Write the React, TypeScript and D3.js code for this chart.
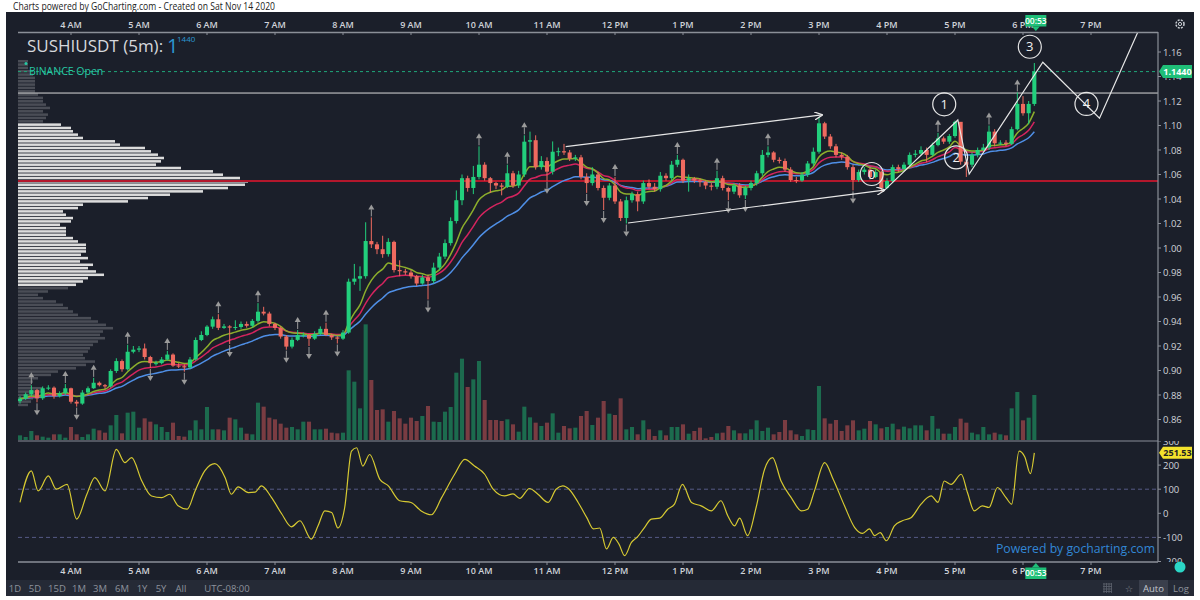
import React from 'react';
import * as d3 from 'd3';

// 5m candles, SUSHIUSDT, from 3:15 AM to 6:10 PM (Nov 14 2020)
const firstOpen = 0.875;
const closes = [
  0.877, 0.8806, 0.884, 0.8773, 0.8855, 0.886, 0.879, 0.8814, 0.8855, 0.8745,
  0.873, 0.882, 0.8855, 0.89, 0.888, 0.887, 0.8996, 0.9077, 0.901, 0.9153,
  0.917, 0.918, 0.911, 0.906, 0.906, 0.909, 0.913, 0.904, 0.9035, 0.9025,
  0.909, 0.9249, 0.929, 0.9358, 0.9418, 0.9348, 0.936, 0.935, 0.9355, 0.938,
  0.9365, 0.9405, 0.948, 0.9465, 0.938, 0.9348, 0.9277, 0.9195, 0.925, 0.929,
  0.929, 0.926, 0.93, 0.934, 0.929, 0.927, 0.926, 0.931, 0.9725, 0.975,
  0.977, 1.0057, 1.003, 0.999, 0.995, 1.005, 0.982, 0.981, 0.98, 0.977,
  0.971, 0.976, 0.973, 0.984, 0.993, 1.004, 1.022, 1.039, 1.057, 1.049,
  1.058, 1.068, 1.057, 1.053, 1.051, 1.05, 1.061, 1.051, 1.06, 1.0868,
  1.088, 1.066, 1.071, 1.0623, 1.0786, 1.079, 1.078, 1.073, 1.074, 1.058,
  1.053, 1.06, 1.049, 1.041, 1.051, 1.038, 1.0245, 1.039, 1.044, 1.038,
  1.053, 1.05, 1.048, 1.059, 1.057, 1.068, 1.072, 1.055, 1.057, 1.055,
  1.054, 1.051, 1.05, 1.057, 1.049, 1.046, 1.051, 1.043, 1.049, 1.053,
  1.061, 1.076, 1.078, 1.072, 1.071, 1.064, 1.0555, 1.055, 1.06, 1.069,
  1.0786, 1.1018, 1.091, 1.083, 1.076, 1.0745, 1.066, 1.0555, 1.062, 1.064,
  1.058, 1.062, 1.049, 1.0547, 1.066, 1.0645, 1.068, 1.076, 1.077, 1.08,
  1.076, 1.084, 1.0895, 1.0868, 1.0914, 1.103, 1.0705, 1.068, 1.076, 1.08,
  1.082, 1.095, 1.0855, 1.086, 1.085, 1.097, 1.1176, 1.11, 1.1176, 1.144,
];
const highs = [
  0.879, 0.882, 0.888, 0.885, 0.887, 0.888, 0.887, 0.883, 0.889, 0.886,
  0.876, 0.884, 0.887, 0.894, 0.891, 0.889, 0.901, 0.91, 0.909, 0.921,
  0.92, 0.92, 0.922, 0.912, 0.908, 0.911, 0.916, 0.914, 0.906, 0.905,
  0.911, 0.927, 0.932, 0.937, 0.944, 0.946, 0.938, 0.937, 0.941, 0.94,
  0.94, 0.942, 0.955, 0.952, 0.948, 0.939, 0.936, 0.929, 0.927, 0.933,
  0.931, 0.93, 0.932, 0.936, 0.939, 0.93, 0.928, 0.933, 0.975, 0.987,
  0.985, 1.021, 1.025, 1.005, 1.01, 1.008, 1.006, 0.99, 0.983, 0.982,
  0.978, 0.978, 0.978, 0.988, 0.996, 1.007, 1.025, 1.047, 1.06, 1.059,
  1.067, 1.083, 1.07, 1.058, 1.054, 1.053, 1.068, 1.063, 1.063, 1.092,
  1.095, 1.092, 1.075, 1.074, 1.087, 1.082, 1.085, 1.08, 1.076, 1.076,
  1.061, 1.066, 1.062, 1.051, 1.053, 1.058, 1.04, 1.042, 1.046, 1.046,
  1.055, 1.056, 1.053, 1.062, 1.061, 1.071, 1.076, 1.073, 1.06, 1.058,
  1.057, 1.055, 1.053, 1.063, 1.059, 1.05, 1.053, 1.053, 1.051, 1.055,
  1.063, 1.08, 1.083, 1.079, 1.074, 1.073, 1.066, 1.058, 1.062, 1.071,
  1.082, 1.107, 1.103, 1.093, 1.085, 1.078, 1.076, 1.068, 1.064, 1.066,
  1.066, 1.064, 1.063, 1.057, 1.068, 1.068, 1.07, 1.078, 1.08, 1.083,
  1.082, 1.086, 1.094, 1.091, 1.093, 1.104, 1.1, 1.072, 1.078, 1.082,
  1.085, 1.1, 1.097, 1.088, 1.088, 1.099, 1.127, 1.124, 1.12, 1.151,
];
const lows = [
  0.873, 0.876, 0.879, 0.874, 0.876, 0.884, 0.877, 0.878, 0.88, 0.873,
  0.8705, 0.872, 0.881, 0.885, 0.887, 0.885, 0.886, 0.898, 0.899, 0.9,
  0.914, 0.915, 0.909, 0.902, 0.904, 0.905, 0.908, 0.903, 0.902, 0.899,
  0.901, 0.908, 0.924, 0.928, 0.934, 0.933, 0.934, 0.9216, 0.933, 0.934,
  0.935, 0.935, 0.939, 0.945, 0.936, 0.933, 0.926, 0.917, 0.918, 0.924,
  0.927, 0.92, 0.925, 0.929, 0.928, 0.925, 0.922, 0.925, 0.93, 0.97,
  0.965, 0.975, 1.0, 0.995, 0.992, 0.993, 0.98, 0.977, 0.978, 0.975,
  0.969, 0.97, 0.958, 0.971, 0.982, 0.991, 1.002, 1.02, 1.035, 1.046,
  1.044, 1.056, 1.055, 1.045, 1.048, 1.043, 1.049, 1.049, 1.049, 1.058,
  1.07, 1.064, 1.064, 1.055, 1.06, 1.075, 1.076, 1.071, 1.071, 1.056,
  1.045, 1.051, 1.047, 1.031, 1.039, 1.036, 1.022, 1.02, 1.037, 1.03,
  1.036, 1.048, 1.046, 1.046, 1.055, 1.055, 1.066, 1.053, 1.046, 1.053,
  1.05, 1.048, 1.047, 1.048, 1.047, 1.039, 1.044, 1.041, 1.04, 1.047,
  1.051, 1.059, 1.074, 1.07, 1.069, 1.062, 1.054, 1.053, 1.054, 1.058,
  1.067, 1.077, 1.089, 1.081, 1.074, 1.072, 1.064, 1.047, 1.054, 1.06,
  1.056, 1.057, 1.046, 1.048, 1.053, 1.062, 1.063, 1.066, 1.074, 1.076,
  1.07, 1.075, 1.083, 1.085, 1.085, 1.09, 1.068, 1.058, 1.066, 1.074,
  1.079, 1.08, 1.083, 1.084, 1.083, 1.084, 1.096, 1.108, 1.101, 1.116,
];
const volumes = [
  14, 9, 27, 14, 10, 7, 17, 17, 7, 39,
  17, 9, 17, 34, 29, 22, 44, 75, 20, 82,
  85, 37, 65, 55, 47, 39, 24, 52, 12, 10,
  29, 59, 32, 99, 32, 32, 29, 67, 62, 37,
  19, 17, 112, 100, 67, 62, 49, 37, 39, 32,
  55, 55, 32, 32, 34, 22, 20, 22, 209, 175,
  95, 347, 180, 90, 92, 55, 87, 65, 49, 67,
  57, 72, 102, 55, 54, 85, 99, 202, 244, 159,
  182, 237, 120, 60, 60, 57, 62, 47, 25, 100,
  68, 52, 42, 52, 80, 22, 42, 35, 37, 72,
  87, 45, 67, 117, 79, 75, 125, 32, 39, 17,
  59, 32, 12, 29, 14, 39, 39, 47, 19, 27,
  37, 5, 9, 20, 22, 42, 29, 20, 20, 32,
  59, 27, 37, 17, 24, 60, 29, 17, 12, 32,
  30, 162, 65, 49, 60, 27, 44, 59, 29, 34,
  57, 47, 35, 39, 49, 32, 40, 35, 44, 44,
  29, 72, 34, 19, 19, 39, 64, 52, 22, 17,
  39, 17, 22, 17, 14, 95, 144, 59, 67, 135,
];

// fractal markers (candle index)
const fractalUp = [2, 8, 13, 19, 26, 35, 42, 49, 54, 62, 81, 86, 89, 105, 116, 123, 132, 162, 171, 176];
const fractalDown = [3, 10, 23, 29, 37, 47, 51, 56, 72, 93, 100, 103, 107, 125, 128, 147];

// CCI points [candle index, value]
const cciPoints: [number, number][] = [
  [0, 45], [2, 176], [3.2, 93], [5, 155], [6.4, 100], [8.3, 120], [10, -24], [11.8, 79], [13.2, 148], [15, 93],
  [17, 265], [18.5, 210], [19.7, 231], [21.5, 134], [23.2, 72], [25, 65], [26.4, 79], [27.9, 31], [29.5, 17], [30.9, 93],
  [32.6, 176], [34.4, 206], [36.2, 148], [37.3, 79], [38.5, 110], [40.3, 86], [41.5, 88], [42.6, 114], [44.4, 65], [46.2, -3],
  [47.9, -56], [49.4, -31], [51.4, -107], [52.6, -52], [53.8, 10], [55, 3], [56.1, -61], [57.3, 24], [58.5, 258], [59.4, 272],
  [60.5, 196], [61.7, 244], [63.5, 141], [65, 114], [67, 52], [69, 45], [70.8, 10], [72.6, -6], [74.4, 65], [76.7, 162],
  [78.5, 224], [80.2, 196], [82, 162], [83.5, 100], [85.5, 72], [87, 81], [88.2, 62], [89.9, 103], [91.4, 79], [93.2, 45],
  [94.6, 100], [95.8, 114], [96.9, 100], [98.5, 45], [100, -17], [101.2, -65], [102.3, -61], [103.5, -148], [104.7, -100], [105.7, -128],
  [106.7, -176], [107.9, -121], [109, -97], [110.2, -59], [111.4, -24], [112.9, -20], [114.3, 17], [115.5, 38], [116.9, 120], [118.5, 45],
  [120.2, 31], [122, 10], [123.7, 52], [124.9, -10], [126.1, -52], [127, -20], [128.4, -93], [129.9, 24], [131.4, 183], [132.8, 231],
  [134.3, 134], [136.1, 65], [137.9, 10], [139, 17], [140.2, 93], [142, 210], [143.5, 141], [145.5, 31], [147.3, -59], [148.7, -83],
  [149.9, -65], [150.8, -93], [151.8, -80], [152.9, -114], [154.3, -52], [155.7, -31], [157.3, -17], [159, 38], [160.8, 72], [162, 45],
  [163.1, 134], [164.3, 120], [166.1, 162], [167.2, 86], [168.4, 10], [169.8, 31], [171, 24], [172.5, 107], [174, 65], [175, 38],
  [176.3, 258], [177.3, 235], [178.3, 165], [179, 251],
];

// volume profile, top (1.1535) to bottom (0.8702)
const profileTop = 1.1535;
const profileBottom = 0.8702;
const profile = [
  10, 10, 10, 12, 15, 17, 17, 17, 17, 17, 20, 25, 25, 28, 32, 25, 30, 28, 25,
  43, 53, 55, 60, 65, 97, 102, 127, 133, 140, 146, 143, 138, 163, 195, 205, 222, 230, 227, 210, 185,
  152, 130, 110, 65, 60, 45, 48, 55, 53, 42, 48, 48, 48, 55, 60, 68, 68, 68, 63, 70,
  62, 75, 70, 78, 86, 70, 65, 58,
  50, 30, 20, 25, 38, 45, 50, 55, 60, 73, 80, 88, 95, 85, 82, 87, 80, 75, 72, 70,
  65, 67, 77, 68, 58, 40, 33, 20, 15, 13, 25, 27, 20, 15, 13, 10,
];
const valueAreaHigh = 1.103;
const valueAreaLow = 0.9684;
const pocPrice = 1.0547;
const levelPrice = 1.1265;
const lastPrice = 1.144;
const lastCci = 251.53;

const priceTicks = [0.86, 0.88, 0.9, 0.92, 0.94, 0.96, 0.98, 1.0, 1.02, 1.04, 1.06, 1.08, 1.1, 1.12, 1.14, 1.16];
const cciTicks = [300, 200, 100, 0, -100, -200];

// drawings in [candle index, price]
const upperChannel: [number, number][] = [[96.3, 1.0827], [141.5, 1.1086]];
const lowerChannel: [number, number][] = [[107.3, 1.0204], [152.5, 1.0473]];
const wavePath: [number, number][] = [[152.3, 1.046], [165.5, 1.1045], [167.5, 1.0604], [180.5, 1.1516], [190.5, 1.1059], [197.3, 1.1766]];
const waveLabels: [string, number, number][] = [['0', 150.3, 1.0604], ['1', 163.1, 1.1173], ['2', 165.2, 1.074], ['3', 178.2, 1.1643], ['4', 188.2, 1.1176]];

const rangeButtons = ['1D', '5D', '15D', '1M', '3M', '6M', '1Y', '5Y', 'All'];

const C = {
  bg: '#1b1f2a',
  up: '#22cf7c',
  down: '#ef6a5f',
  volUp: '#1c6b4e',
  volDown: '#7a3c42',
  axis: '#8b8f98',
  text: '#d0d3d9',
};

const ema = (vals: number[], n: number) => {
  const k = 2 / (n + 1);
  let e = vals[0];
  return vals.map((v, i) => (i === 0 ? e : (e = v * k + e * (1 - k))));
};

const App: React.FC = () => {
  const left = 18, right = 1158, top = 33, sep = 441, bottom = 562;
  const t0 = new Date(2020, 10, 14, 3, 15);
  const step = 5 * 60 * 1000;
  const x = d3.scaleTime()
    .domain([t0, new Date(2020, 10, 14, 19, 0)])
    .range([20, 20 + 15.75 * 68]);
  const xi = (i: number) => x(new Date(+t0 + i * step));
  const y = d3.scaleLinear().domain([0.86, 1.16]).range([419.5, 52]);
  const yVol = d3.scaleLinear().domain([0, 360]).range([440, 320]);
  const yCci = d3.scaleLinear().domain([-200, 300]).range([561.5, 441]);
  const profH = (y(profileBottom) - y(profileTop)) / profile.length;
  const xProf = d3.scaleLinear().domain([0, 230]).range([0, 230]);

  const opens = closes.map((c, i) => (i === 0 ? firstOpen : closes[i - 1]));
  const bw = (xi(1) - xi(0)) * 0.72;
  const hours = x.ticks(d3.timeHour.every(1)!);
  const fmt = d3.timeFormat('%-I %p');

  const pLine = d3.line<[number, number]>().x(d => xi(d[0])).y(d => y(d[1]));
  const emaLine = d3.line<number>().x((_, i) => xi(i)).y(d => y(d)).curve(d3.curveMonotoneX);
  const cciLine = d3.line<[number, number]>().x(d => xi(d[0])).y(d => yCci(d[1])).curve(d3.curveMonotoneX);

  const emas: [number, string][] = [[21, '#4f8fe6'], [13, '#d4245e'], [8, '#8cae2c']];
  const font = '"Open Sans", "DejaVu Sans", sans-serif';

  return (
    <svg width={1200} height={600} style={{ position: 'absolute', left: 0, top: 0 }} fontFamily={font}>
      <defs>
        <clipPath id="pricePane"><rect x={left} y={top} width={right - left} height={sep - top} /></clipPath>
        <clipPath id="cciPane"><rect x={left} y={sep} width={right - left} height={bottom - sep} /></clipPath>
        <clipPath id="cciAxis"><rect x={right} y={sep} width={40} height={bottom - sep} /></clipPath>
        <marker id="arrow" viewBox="0 0 10 10" refX="9" refY="5" markerWidth="7" markerHeight="7" orient="auto">
          <path d="M0,0 L10,5 L0,10" fill="none" stroke="#e6e6e6" strokeWidth={1.5} />
        </marker>
      </defs>
      <rect width={1200} height={600} fill="#fff" />
      <text x={13} y={10} fontSize={10} fill="#222" textLength={262} lengthAdjust="spacingAndGlyphs">
        Charts powered by GoCharting.com - Created on Sat Nov 14 2020
      </text>
      <rect x={6} y={12} width={1188} height={584} fill={C.bg} />

      {/* price pane */}
      <g clipPath="url(#pricePane)">
        {profile.map((v, i) => {
          const yy = y(profileTop) + i * profH;
          const p = y.invert(yy + profH / 2);
          const light = p <= valueAreaHigh && p >= valueAreaLow;
          return <rect key={'pf' + i} x={left} y={yy} width={xProf(v)} height={profH - 0.8}
            fill={light ? '#dcdcdc' : '#4a4d56'} />;
        })}
        <line x1={left} x2={right} y1={y(pocPrice)} y2={y(pocPrice)} stroke="#b3172c" strokeWidth={2} />
        <line x1={left} x2={right} y1={y(levelPrice)} y2={y(levelPrice)} stroke="#d9d9d9" strokeWidth={1} />
        <line x1={left} x2={right} y1={y(lastPrice)} y2={y(lastPrice)} stroke="#1fa67a" strokeWidth={1} strokeDasharray="3,3" />

        {volumes.map((v, i) => (
          <rect key={'v' + i} x={xi(i) - bw / 2} y={yVol(v)} width={bw} height={yVol(0) - yVol(v)}
            fill={closes[i] >= opens[i] ? C.volUp : C.volDown} />
        ))}

        {emas.map(([n, col]) => (
          <path key={'e' + n} d={emaLine(ema(closes, n)) || ''} fill="none" stroke={col} strokeWidth={1.5} />
        ))}

        {closes.map((c, i) => {
          const o = opens[i];
          const col = c >= o ? C.up : C.down;
          const yt = y(Math.max(o, c)), yb = y(Math.min(o, c));
          return (
            <g key={'c' + i}>
              <line x1={xi(i)} x2={xi(i)} y1={y(highs[i])} y2={y(lows[i])} stroke={col} strokeWidth={1} />
              <rect x={xi(i) - bw / 2} y={yt} width={bw} height={Math.max(1, yb - yt)} fill={col} />
            </g>
          );
        })}

        {fractalUp.map(i => {
          const cx = xi(i), yh = y(highs[i]);
          return (
            <g key={'fu' + i} fill="#9b9b9b" stroke="#9b9b9b">
              <line x1={cx} x2={cx} y1={yh - 1} y2={yh - 8} strokeWidth={1} />
              <path d={`M${cx - 3},${yh - 8} L${cx + 3},${yh - 8} L${cx},${yh - 13} Z`} stroke="none" />
            </g>
          );
        })}
        {fractalDown.map(i => {
          const cx = xi(i), yl = y(lows[i]);
          return (
            <g key={'fd' + i} fill="#9b9b9b" stroke="#9b9b9b">
              <line x1={cx} x2={cx} y1={yl + 1} y2={yl + 8} strokeWidth={1} />
              <path d={`M${cx - 3},${yl + 8} L${cx + 3},${yl + 8} L${cx},${yl + 13} Z`} stroke="none" />
            </g>
          );
        })}

        <path d={pLine(upperChannel) || ''} stroke="#e6e6e6" strokeWidth={1.2} fill="none" markerEnd="url(#arrow)" />
        <path d={pLine(lowerChannel) || ''} stroke="#e6e6e6" strokeWidth={1.2} fill="none" markerEnd="url(#arrow)" />
        <path d={pLine(wavePath) || ''} stroke="#e6e6e6" strokeWidth={1.2} fill="none" />
        {waveLabels.map(([t, i, p]) => (
          <g key={'w' + t}>
            <circle cx={xi(i)} cy={y(p)} r={11.5} fill="none" stroke="#e6e6e6" strokeWidth={1.2} />
            <text x={xi(i)} y={y(p) + 4.5} textAnchor="middle" fontSize={13} fill="#f0f0f0">{t}</text>
          </g>
        ))}
      </g>

      {/* labels in price pane */}
      <text x={27} y={52} fontSize={17} fill="#d6d8dc">SUSHIUSDT (5m):</text>
      <text x={167} y={53} fontSize={20} fill="#2b97d2">1</text>
      <text x={177} y={42} fontSize={8} fill="#2b97d2">1440</text>
      <circle cx={26} cy={63.5} r={1.5} fill="#27c9a5" />
      <text x={29} y={75} fontSize={10.5} fill="#27c9a5">BINANCE Open</text>

      {/* CCI pane */}
      <line x1={left} x2={right} y1={sep} y2={sep} stroke="#666a74" strokeWidth={1.5} />
      <g clipPath="url(#cciPane)">
        {[100, -100].map(v => (
          <line key={'cl' + v} x1={left} x2={right} y1={yCci(v)} y2={yCci(v)} stroke="#565a86" strokeDasharray="4,3" />
        ))}
        <path d={cciLine(cciPoints) || ''} fill="none" stroke="#d6c932" strokeWidth={1.2} />
      </g>
      <text x={996} y={553} fontSize={12.5} fill="#3287d6" textLength={159} lengthAdjust="spacingAndGlyphs">Powered by gocharting.com</text>

      {/* axes */}
      <line x1={left} x2={right} y1={top - 0.5} y2={top - 0.5} stroke={C.axis} strokeWidth={1.5} />
      <line x1={left} x2={right} y1={bottom} y2={bottom} stroke={C.axis} strokeWidth={1.5} />
      <line x1={right} x2={right} y1={top - 1} y2={bottom} stroke={C.axis} strokeWidth={1.2} />
      {hours.map(h => (
        <g key={'h' + +h} fontSize={9} fontWeight={600} fill={C.text} textAnchor="middle">
          <line x1={x(h)} x2={x(h)} y1={top - 1} y2={top + 2} stroke={C.axis} />
          <text x={x(h)} y={28}>{fmt(h)}</text>
          <line x1={x(h)} x2={x(h)} y1={bottom} y2={bottom + 3} stroke={C.axis} />
          <text x={x(h)} y={574}>{fmt(h)}</text>
        </g>
      ))}
      {priceTicks.map(p => (
        <g key={'p' + p} fontSize={9.5} fill={C.text}>
          <line x1={right} x2={right + 3} y1={y(p)} y2={y(p)} stroke={C.axis} />
          <text x={right + 5} y={y(p) + 3.5}>{d3.format('.2f')(p)}</text>
        </g>
      ))}
      <g clipPath="url(#cciAxis)">
        {cciTicks.map(v => (
          <g key={'ct' + v} fontSize={9.5} fill={C.text}>
            <line x1={right} x2={right + 3} y1={yCci(v)} y2={yCci(v)} stroke={C.axis} />
            <text x={right + 5} y={yCci(v) + 3.5}>{v}</text>
          </g>
        ))}
      </g>

      {/* last price & cci tags */}
      <path d={`M${right + 1},${y(lastPrice)} L${right + 5},${y(lastPrice) - 6.5} L${right + 34},${y(lastPrice) - 6.5} L${right + 34},${y(lastPrice) + 6.5} L${right + 5},${y(lastPrice) + 6.5} Z`} fill="#1fbf78" />
      <text x={right + 19.5} y={y(lastPrice) + 3.5} fontSize={9} fontWeight={700} fill="#fff" textAnchor="middle">{lastPrice.toFixed(4)}</text>
      <path d={`M${right + 1},${yCci(lastCci)} L${right + 5},${yCci(lastCci) - 6} L${right + 34},${yCci(lastCci) - 6} L${right + 34},${yCci(lastCci) + 6} L${right + 5},${yCci(lastCci) + 6} Z`} fill="#f3e22c" />
      <text x={right + 19.5} y={yCci(lastCci) + 3.5} fontSize={9} fontWeight={700} fill="#222" textAnchor="middle">{lastCci.toFixed(2)}</text>

      {/* countdown tags */}
      {[0, 1].map(k => {
        const cx = xi(179) + 1.5;
        const by = k === 0 ? 15 : 567.5;
        const tri = k === 0
          ? `M${cx - 4},${by + 11.5} L${cx + 4},${by + 11.5} L${cx},${by + 16} Z`
          : `M${cx - 4},${by} L${cx + 4},${by} L${cx},${by - 4.5} Z`;
        return (
          <g key={'cd' + k}>
            <rect x={cx - 10.5} y={by} width={21} height={11.5} fill="#1fbf78" />
            <path d={tri} fill="#1fbf78" />
            <text x={cx} y={by + 8.8} fontSize={8.5} fontWeight={600} fill="#fff" textAnchor="middle">00:53</text>
          </g>
        );
      })}

      {/* gear & status dot */}
      <circle cx={1180} cy={24} r={4} fill="none" stroke="#c8ccd2" strokeWidth={1.5} strokeDasharray="2,1.2" />
      <circle cx={1180} cy={24} r={1.6} fill="none" stroke="#c8ccd2" strokeWidth={1} />
      <circle cx={1180} cy={567} r={5.5} fill="#2bd6c6" />

      {/* bottom toolbar */}
      <rect x={6} y={580} width={1188} height={16} fill="#252a36" />
      {rangeButtons.map((b, i) => (
        <text key={b} x={[15, 35, 57, 79, 100, 122, 142, 161, 181][i]} y={591.5} fontSize={9.5} fill="#8d929c" textAnchor="middle">{b}</text>
      ))}
      <text x={227} y={591.5} fontSize={9.5} fill="#8d929c" textAnchor="middle">UTC-08:00</text>
      <g stroke="#5d626d" strokeWidth={0.8}>
        {[0, 1, 2, 3].map(k => (
          <g key={'g' + k}>
            <line x1={1104 + k * 2.5} x2={1104 + k * 2.5} y1={583} y2={593} />
            <line x1={1103} x2={1112} y1={584 + k * 2.5} y2={584 + k * 2.5} />
          </g>
        ))}
      </g>
      <text x={1129} y={592} fontSize={9} fill="#8d929c" textAnchor="middle">☆</text>
      <rect x={1139} y={580} width={29} height={16} fill="#3a3f4c" />
      <text x={1153.5} y={591.5} fontSize={9.5} fill="#c4c8cf" textAnchor="middle">Auto</text>
      <text x={1181} y={591.5} fontSize={9.5} fill="#8d929c" textAnchor="middle">Log</text>
    </svg>
  );
};

export default App;
